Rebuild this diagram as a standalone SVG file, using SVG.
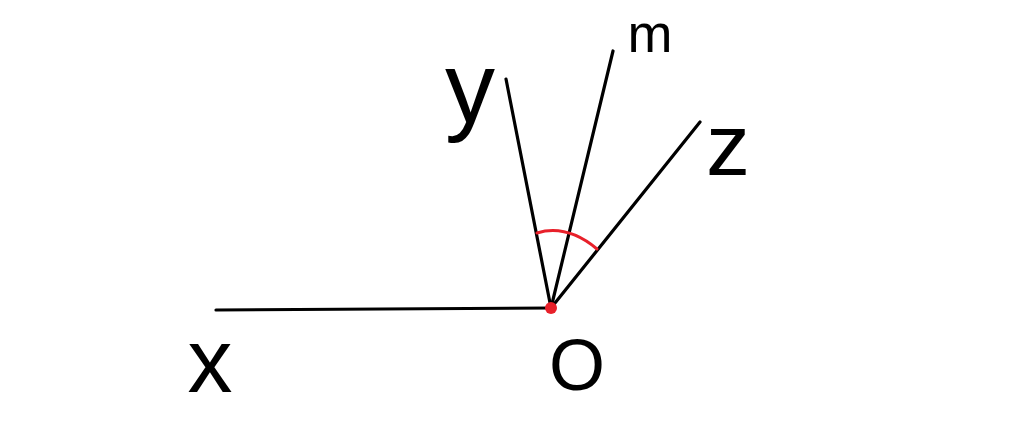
<svg xmlns="http://www.w3.org/2000/svg" width="1024" height="428" viewBox="0 0 1024 428">
<style>
.ray{stroke:#000;stroke-width:3.2;stroke-linecap:round;fill:none}
.lbl{font-family:"Liberation Sans","DejaVu Sans",sans-serif;fill:#000;text-anchor:middle}
</style>
<rect width="1024" height="428" fill="#fff"/>
<g id="connectors">
<line class="ray" x1="216" y1="310" x2="551" y2="308"/>
<line class="ray" x1="551" y1="308" x2="506" y2="79"/>
<line class="ray" x1="551" y1="308" x2="613" y2="51"/>
<line class="ray" x1="551" y1="308" x2="700" y2="122"/>
<path d="M537 233 Q567 224 597 249" stroke="#e8202a" stroke-width="3" fill="none" stroke-linecap="round"/>
</g>
<g id="node-O-point"><circle cx="551" cy="308" r="6" fill="#e8202a"/></g>
<g id="label-y"><text class="lbl" x="470" y="122" font-size="100">y</text></g>
<g id="label-m"><text class="lbl" x="650" y="52" font-size="54">m</text></g>
<g id="label-z"><text class="lbl" x="728" y="175" font-size="88">z</text></g>
<g id="label-x"><text class="lbl" x="210" y="392" font-size="90">x</text></g>
<g id="label-O"><text class="lbl" x="577" y="390" font-size="72">O</text></g>
</svg>
